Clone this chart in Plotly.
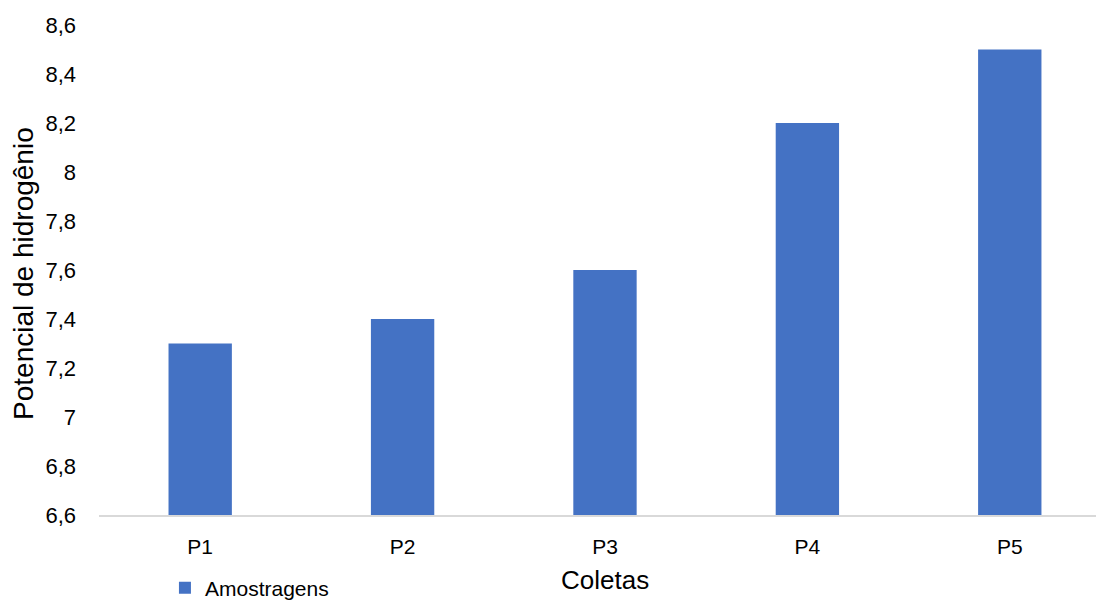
import plotly.graph_objects as go

categories = ["P1", "P2", "P3", "P4", "P5"]
values = [7.3, 7.4, 7.6, 8.2, 8.5]
series_name = "Amostragens"
y_title = "Potencial de hidrogênio"
x_title = "Coletas"

FONT = "Liberation Sans, Arial, sans-serif"

fig = go.Figure()
fig.add_trace(go.Bar(
    x=categories, y=values, name=series_name,
    marker=dict(color="#4472C4", line=dict(width=0)),
    showlegend=True,
))

fig.update_layout(
    width=1096, height=601,
    margin=dict(l=99, r=0, t=25, b=86, autoexpand=False),
    paper_bgcolor="white", plot_bgcolor="white",
    separators=", ",
    bargap=0.687,
    font=dict(family=FONT, size=21, color="#000000"),
    showlegend=True,
    legend=dict(orientation="h", xref="container", yref="container",
                x=0.1505, xanchor="left", y=0.0557, yanchor="top",
                font=dict(size=21, color="#000000"), bgcolor="rgba(0,0,0,0)"),
    xaxis=dict(
        type="category", range=[-0.5, 4.426], showgrid=False, zeroline=False,
        showline=True, linecolor="#d9d9d9", linewidth=2, ticks="",
        tickfont=dict(size=21), ticklabelstandoff=12, automargin=False,
    ),
    yaxis=dict(
        range=[6.6, 8.6], tickmode="linear", tick0=6.6, dtick=0.2,
        showgrid=False, zeroline=False, showline=False, ticks="",
        tickfont=dict(size=22), ticklabelstandoff=22, automargin=False,
    ),
    annotations=[
        dict(text=x_title, xref="x", yref="paper", x=2, y=-0.1327, xanchor="center",
             yanchor="middle", showarrow=False, font=dict(size=26)),
        dict(text=y_title, xref="paper", yref="paper", x=-0.0752, y=0.492,
             xanchor="center", yanchor="middle", textangle=-90, showarrow=False,
             font=dict(size=28)),
    ],
)

fig.write_html("out.html", config={"displayModeBar": False},
               post_script="document.body.style.margin='0';document.body.style.overflow='hidden';")
